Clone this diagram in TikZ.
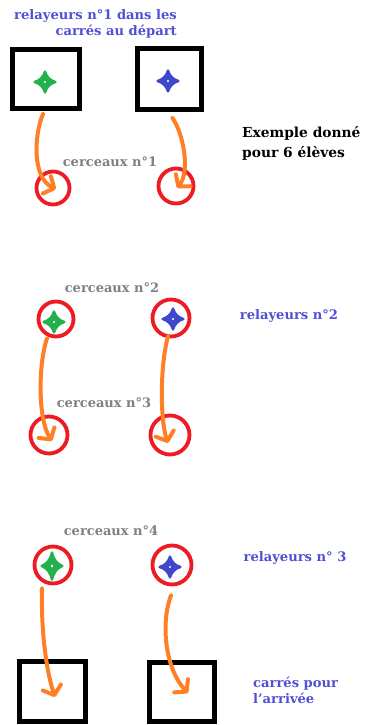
\documentclass[tikz,border=0pt]{standalone}
\usepackage{fontspec}
\setmainfont{DejaVu Serif}
\usetikzlibrary{shapes.geometric,arrows.meta}
\definecolor{hoopred}{RGB}{237,28,36}
\definecolor{arrorange}{RGB}{255,127,39}
\definecolor{stargreen}{RGB}{34,177,76}
\definecolor{starblue}{RGB}{63,72,204}
\definecolor{txtblue}{RGB}{80,80,215}
\definecolor{txtgray}{RGB}{128,128,128}
\tikzset{
  square/.style={draw=black, line width=5pt, minimum width=#1, inner sep=0},
  hoop/.style={draw=hoopred, line width=3.8pt, circle, minimum size=#1, inner sep=0},
  pics/runner/.style={code={
    \filldraw[fill=#1, draw=#1, line width=2.2pt, line join=round]
      (0,-10.5) .. controls (2.2,-4.5) and (4.5,-2.2) .. (10.5,0)
      .. controls (4.5,2.2) and (2.2,4.5) .. (0,10.5)
      .. controls (-2.2,4.5) and (-4.5,2.2) .. (-10.5,0)
      .. controls (-4.5,-2.2) and (-2.2,-4.5) .. cycle;
    \fill[white] (0,0) circle (1.2);
  }},
  arr/.style={draw=arrorange, line width=4pt, line cap=round,
    -{Straight Barb[length=8pt,width=19pt,round]}},
  bluetxt/.style={text=txtblue, font=\fontsize{13.1}{16}\selectfont\bfseries},
  graytxt/.style={text=txtgray, font=\fontsize{13}{15}\selectfont\bfseries},
  blacktxt/.style={text=black, font=\fontsize{13.8}{20}\selectfont\bfseries},
}
\begin{document}
\begin{tikzpicture}[x=1pt,y=-1pt]
\useasboundingbox (0,0) rectangle (368,725);
\fill[white] (0,0) rectangle (368,725);

% texts
\node[bluetxt, align=right, anchor=east, inner sep=0] (t1) at (177,24) {relayeurs n°1 dans les\\carrés au départ};
\node[blacktxt, align=left, anchor=west, inner sep=0] (t2) at (242,143) {Exemple donné\\pour 6 élèves};
\node[graytxt, anchor=center, inner sep=0] (g1) at (110,162) {cerceaux n°1};
\node[graytxt, anchor=center, inner sep=0] (g2) at (112,288) {cerceaux n°2};
\node[bluetxt, anchor=center, inner sep=0] (t3) at (289,316) {relayeurs n°2};
\node[graytxt, anchor=center, inner sep=0] (g3) at (104,403) {cerceaux n°3};
\node[graytxt, anchor=center, inner sep=0] (g4) at (111,531) {cerceaux n°4};
\node[bluetxt, anchor=center, inner sep=0] (t4) at (295,558) {relayeurs n° 3};
\node[bluetxt, align=left, anchor=west, inner sep=0] (t5) at (253,690) {carrés pour\\l{\char"0027}arrivée};

% squares
\node[square=67pt, minimum height=59pt] (sqTL) at (46,79) {};
\node[square=64pt, minimum height=61pt] (sqTR) at (169.5,79) {};
\node[square=66pt, minimum height=60pt] (sqBL) at (52.5,691.5) {};
\node[square=65pt, minimum height=59pt] (sqBR) at (182,692) {};

% hoops
\node[hoop=33pt] (c1L) at (53,188) {};
\node[hoop=35pt] (c1R) at (176,186) {};
\node[hoop=35pt] (c2L) at (56,319) {};
\node[hoop=37pt] (c2R) at (171,318) {};
\node[hoop=37pt] (c3L) at (49,435) {};
\node[hoop=39pt] (c3R) at (170,435) {};
\node[hoop=37pt] (c4L) at (53,565) {};
\node[hoop=39pt] (c4R) at (172,565) {};

% runners
\pic (s1L) at (45,82) {runner=stargreen};
\pic (s1R) at (168,81) {runner=starblue};
\pic (s2L) at (54,322) {runner=stargreen};
\pic (s2R) at (173,319) {runner=starblue};
\pic[yscale=1.3] (s4L) at (52,566) {runner=stargreen};
\pic (s4R) at (170,567) {runner=starblue};

% arrow ends
\coordinate (e1L) at (56,189);
\coordinate (e1R) at (177,188);
\coordinate (e3L) at (52,441);
\coordinate (e3R) at (168,443);
\coordinate (e5L) at (55,697);
\coordinate (e5R) at (188,693);

% arrows
\draw[arr] ([shift={(-3,3)}]sqTL.south) .. controls (34,135) and (32,178) .. (e1L);
\draw[arr] ([shift={(3,6)}]sqTR.south) .. controls (184,135) and (190,172) .. (e1R);
\draw[arr] ([shift={(-9,0)}]c2L.south) .. controls (38,365) and (38,420) .. (e3L);
\draw[arr] ([shift={(-3,-2)}]c2R.south) .. controls (160,365) and (160,420) .. (e3R);
\draw[arr] ([shift={(-11,3)}]c4L.south) .. controls (41,630) and (46,670) .. (e5L);
\draw[arr] ([shift={(-1,9)}]c4R.south) .. controls (160,625) and (166,670) .. (e5R);
\end{tikzpicture}
\end{document}
